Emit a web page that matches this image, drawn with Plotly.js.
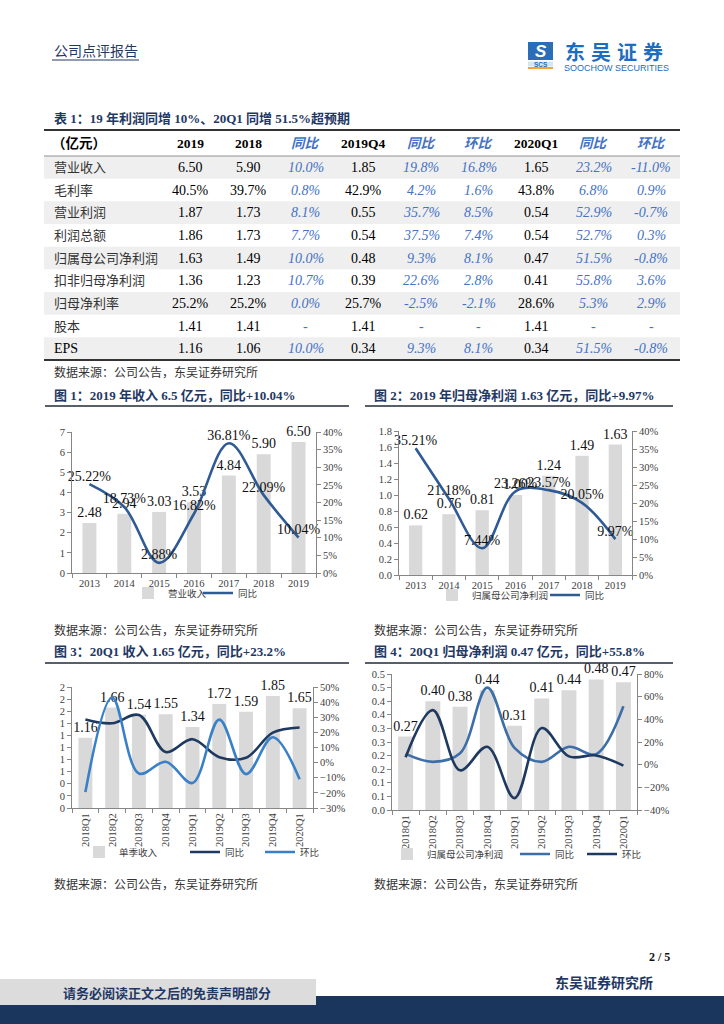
<!DOCTYPE html>
<html><head><meta charset="utf-8">
<script src="https://cdn.plot.ly/plotly-3.0.1.min.js"></script>
<style>html,body{margin:0;padding:0;background:#fff}#g{width:724px;height:1024px}</style>
</head><body><div id="g"></div>
<script>
// ---------- table data ----------
const tableHeader = ['（亿元）','2019','2018','同比','2019Q4','同比','环比','2020Q1','同比','环比'];
const rowLabels = ['营业收入','毛利率','营业利润','利润总额','归属母公司净利润','扣非归母净利润','归母净利率','股本','EPS'];
const val2019 = ['6.50','40.5%','1.87','1.86','1.63','1.36','25.2%','1.41','1.16'];
const val2018 = ['5.90','39.7%','1.73','1.73','1.49','1.23','25.2%','1.41','1.06'];
const yoyYear = ['10.0%','0.8%','8.1%','7.7%','10.0%','10.7%','0.0%','-','10.0%'];
const val2019Q4 = ['1.85','42.9%','0.55','0.54','0.48','0.39','25.7%','1.41','0.34'];
const yoy2019Q4 = ['19.8%','4.2%','35.7%','37.5%','9.3%','22.6%','-2.5%','-','9.3%'];
const qoq2019Q4 = ['16.8%','1.6%','8.5%','7.4%','8.1%','2.8%','-2.1%','-','8.1%'];
const val2020Q1 = ['1.65','43.8%','0.54','0.54','0.47','0.41','28.6%','1.41','0.34'];
const yoy2020Q1 = ['23.2%','6.8%','52.9%','52.7%','51.5%','55.8%','5.3%','-','51.5%'];
const qoq2020Q1 = ['-11.0%','0.9%','-0.7%','0.3%','-0.8%','3.6%','2.9%','-','-0.8%'];

// ---------- chart 1 & 2 ----------
const years = ['2013','2014','2015','2016','2017','2018','2019'];
const revenue = [2.48,2.94,3.03,3.53,4.84,5.90,6.50];
const revenueYoy = [25.22,18.73,2.88,16.82,36.81,22.09,10.04];
const netProfit = [0.62,0.76,0.81,1.00,1.24,1.49,1.63];
const netProfitYoy = [35.21,21.18,7.44,23.26,23.57,20.05,9.97];

// ---------- chart 3 & 4 ----------
const quarters = ['2018Q1','2018Q2','2018Q3','2018Q4','2019Q1','2019Q2','2019Q3','2019Q4','2020Q1'];
const qRevenue = [1.16,1.66,1.54,1.55,1.34,1.72,1.59,1.85,1.65];
const qRevenueYoy = [28.5,26.0,31.5,7.0,15.5,3.6,3.2,19.8,23.2];
const qRevenueQoq = [-19.5,43.1,-7.2,0.6,-13.5,28.4,-7.6,16.8,-11.0];
const qNetProfit = [0.27,0.40,0.38,0.44,0.31,0.41,0.44,0.48,0.47];
const qNetProfitYoy = [9.5,2.5,10.0,68.0,14.8,2.5,15.8,9.3,51.5];
const qNetProfitQoq = [6.5,48.1,-5.0,15.8,-29.5,32.3,7.3,8.1,-0.8];

const c3TickVals = [0,0.2,0.4,0.6,0.8,1.0,1.2,1.4,1.6,1.8,2.0];
const c3TickText = ['0','0','0','1','1','1','1','1','2','2','2'];
const c4TickVals = [0,0.05,0.1,0.15,0.2,0.25,0.3,0.35,0.4,0.45,0.5];
const c4TickText = ['0.0','0.1','0.1','0.2','0.2','0.3','0.3','0.4','0.4','0.5','0.5'];

// ---------- helpers ----------
const W = 724, H = 1024;
const px = x => x / W, py = y => 1 - y / H;
const SERIF = 'Liberation Serif, Noto Sans CJK SC, serif';
const NAVY = '#1F3864';
const BAR = '#D9D9D9';
const AX = '#868686';
const BLUE_TXT = '#4472C4';

const tickFont = {family: SERIF, size: 10.5, color: '#404040'};
const labelFont = {family: SERIF, size: 14, color: '#111'};

function barTrace(x, y, name, xa, ya, leg, width) {
  return {type:'bar', x, y, name, xaxis:xa, yaxis:ya, legend:leg, width,
    marker:{color:BAR}, text:y.map(v=>v.toFixed(2)), textposition:'outside',
    constraintext:'none', cliponaxis:false, textfont:labelFont, hoverinfo:'skip'};
}
function lineTrace(x, y, name, xa, ya, leg, color, withText) {
  const t = {type:'scatter', mode: withText ? 'lines+text' : 'lines', x, y, name,
    xaxis:xa, yaxis:ya, legend:leg, line:{shape:'spline', smoothing:1, color, width:2.6},
    cliponaxis:false, hoverinfo:'skip'};
  if (withText) { t.text = y.map(v=>v.toFixed(2)+'%'); t.textposition='top center'; t.textfont=labelFont; }
  return t;
}

const data = [
  barTrace(years, revenue, '营业收入', 'x', 'y', 'legend', 0.4),
  lineTrace(years, revenueYoy, '同比', 'x', 'y2', 'legend2', '#2F5A94', true),
  barTrace(years, netProfit, '归属母公司净利润', 'x2', 'y3', 'legend3', 0.4),
  lineTrace(years, netProfitYoy, '同比', 'x2', 'y4', 'legend4', '#2F5A94', true),
  barTrace(quarters, qRevenue, '单季收入', 'x3', 'y5', 'legend5', 0.52),
  lineTrace(quarters, qRevenueYoy, '同比', 'x3', 'y6', 'legend6', '#1F3A60', false),
  lineTrace(quarters, qRevenueQoq, '环比', 'x3', 'y6', 'legend7', '#3A80C6', false),
  barTrace(quarters, qNetProfit, '归属母公司净利润', 'x4', 'y7', 'legend8', 0.55),
  lineTrace(quarters, qNetProfitYoy, '同比', 'x4', 'y8', 'legend9', '#3D6EA8', false),
  lineTrace(quarters, qNetProfitQoq, '环比', 'x4', 'y8', 'legend10', '#1F3A60', false)
];

const xBase = {type:'category', showline:true, linecolor:AX, linewidth:1, ticks:'outside', tickson:'boundaries',
  ticklen:4, tickcolor:AX, tickfont:tickFont, showgrid:false, zeroline:false, fixedrange:true};
const yBase = {showline:true, linecolor:AX, linewidth:1, ticks:'outside', ticklen:4, tickcolor:AX,
  tickfont:tickFont, showgrid:false, zeroline:false, fixedrange:true};
const legBase = {orientation:'h', xanchor:'left', yanchor:'middle', bgcolor:'rgba(0,0,0,0)',
  font:{family:SERIF, size:9.5, color:'#404040'}, itemwidth:30, borderwidth:0};
const leg = (x, y) => Object.assign({}, legBase, {x:px(x), y:py(y)});

function ann(text, x, y, opt) {
  return Object.assign({text, x:px(x), y:py(y), xref:'paper', yref:'paper', showarrow:false,
    xanchor:'left', yanchor:'middle', font:{family:SERIF, size:12, color:'#333'}}, opt||{});
}
const titleFont = {family:SERIF, size:13, color:NAVY};
const srcText = '数据来源：公司公告，东吴证券研究所';

// ---------- table (drawn from the arrays) ----------
const tableCols = [val2019, val2018, yoyYear, val2019Q4, yoy2019Q4, qoq2019Q4, val2020Q1, yoy2020Q1, qoq2020Q1];
const isRatio = [false,false,true,false,true,true,false,true,true];
const T_LEFT = 44, T_RIGHT = 680, T_TOP = 130, HEAD_H = 26, ROW_H = 22.67, LABEL_W = 118;
const colW = (T_RIGHT - T_LEFT - LABEL_W) / tableCols.length;
const colX = i => T_LEFT + LABEL_W + colW * (i + 0.5);
const rowY = r => T_TOP + HEAD_H + ROW_H * (r + 0.5);

const annotations = [];
const shapes = [];
// header
annotations.push(ann('<b>' + tableHeader[0] + '</b>', 50, T_TOP + HEAD_H/2, {font:{family:SERIF, size:13.5, color:'#000'}}));
tableHeader.slice(1).forEach((h, i) => {
  annotations.push(ann(isRatio[i] ? '<b><i>'+h+'</i></b>' : '<b>'+h+'</b>', colX(i), T_TOP + HEAD_H/2,
    {xanchor:'center', font:{family:SERIF, size:13.5, color: isRatio[i] ? BLUE_TXT : '#000'}}));
});
// body
rowLabels.forEach((lab, r) => {
  if (r % 2 === 0) shapes.push({type:'rect', xref:'paper', yref:'paper', x0:px(T_LEFT), x1:px(T_RIGHT),
    y0:py(T_TOP + HEAD_H + ROW_H*(r+1)), y1:py(T_TOP + HEAD_H + ROW_H*r), fillcolor:'#EFEFEF', line:{width:0}, layer:'below'});
  annotations.push(ann(lab, 52, rowY(r), {font:{family:SERIF, size: lab === 'EPS' ? 14 : 13, color: lab === 'EPS' ? '#000' : '#333'}}));
  tableCols.forEach((col, i) => {
    annotations.push(ann(isRatio[i] ? '<i>'+col[r]+'</i>' : col[r], colX(i), rowY(r),
      {xanchor:'center', font:{family:SERIF, size:14, color: isRatio[i] ? BLUE_TXT : '#000'}}));
  });
});

annotations.push(
  ann('公司点评报告', 52, 51, {font:{family:SERIF, size:14, color:NAVY}}),
  ann('SOOCHOW SECURITIES', 562, 67.5, {font:{family:'Liberation Sans, Arial, sans-serif', size:9, color:'#1C6CBF'}}),
  ann('<b><i>S</i></b>', 540.5, 51, {xanchor:'center', font:{family:'Liberation Sans, sans-serif', size:17, color:'#FFFFFF'}}),
  ann('<b>SCS</b>', 540.5, 64, {xanchor:'center', font:{family:'Liberation Sans, sans-serif', size:6.5, color:'#1C6CBF'}}),
  ann('<b>表 1：19 年利润同增 10%、20Q1 同增 51.5%超预期</b>', 52, 118, {font:titleFont}),
  ann(srcText, 52, 372),
  ann('<b>图 1：2019 年收入 6.5 亿元，同比+10.04%</b>', 52, 395, {font:titleFont}),
  ann('<b>图 2：2019 年归母净利润 1.63 亿元，同比+9.97%</b>', 372, 395, {font:titleFont}),
  ann(srcText, 52, 630),
  ann(srcText, 372, 630),
  ann('<b>图 3：20Q1 收入 1.65 亿元，同比+23.2%</b>', 52, 651.5, {font:titleFont}),
  ann('<b>图 4：20Q1 归母净利润 0.47 亿元，同比+55.8%</b>', 372, 651.5, {font:titleFont}),
  ann(srcText, 52, 884),
  ann(srcText, 372, 884),
  ann('<b>2 / 5</b>', 672, 957, {xanchor:'right', font:{family:SERIF, size:12, color:'#111'}}),
  ann('<b>东吴证券研究所</b>', 604, 983, {xanchor:'center', font:{family:SERIF, size:14, color:NAVY}}),
  ann('<b>请务必阅读正文之后的免责声明部分</b>', 167, 993, {xanchor:'center', font:{family:SERIF, size:13, color:NAVY}})
);
// logo characters, spread wide like the brand lettering
['东','吴','证','券'].forEach((ch, i) => annotations.push(
  ann('<b>'+ch+'</b>', 575 + i*26, 51.5, {xanchor:'center', font:{family:'Noto Sans CJK SC, sans-serif', size:20, color:'#1C6CBF'}})));

function hline(x0, x1, y, color, w) {
  return {type:'line', xref:'paper', yref:'paper', x0:px(x0), x1:px(x1), y0:py(y), y1:py(y), line:{color, width:w}};
}
function rect(x0, x1, y0, y1, color) {
  return {type:'rect', xref:'paper', yref:'paper', x0:px(x0), x1:px(x1), y0:py(y1), y1:py(y0), fillcolor:color, line:{width:0}, layer:'below'};
}
shapes.push(
  hline(52, 139, 60, NAVY, 1),
  rect(528, 553, 42, 60, '#2B6DB8'),
  rect(528, 553, 61.5, 66.5, '#D6E4F3'),
  hline(528, 553, 68, '#F2A33A', 2),
  hline(T_LEFT, T_RIGHT, T_TOP, '#333', 2),
  hline(T_LEFT, T_RIGHT, T_TOP + HEAD_H, '#777', 0.8),
  hline(T_LEFT, T_RIGHT, T_TOP + HEAD_H + ROW_H*rowLabels.length, '#333', 2),
  hline(45, 349, 406, '#1F2A3A', 1.6),
  hline(365, 673, 406, '#1F2A3A', 1.6),
  hline(45, 349, 663, '#1F2A3A', 1.6),
  hline(365, 673, 663, '#1F2A3A', 1.6),
  rect(0, 724, 996, 1024, '#1B365D'),
  Object.assign(rect(0, 316, 979, 1005, '#DCDCDC'), {layer:'above'})
);

const layout = {
  width:W, height:H, margin:{l:0,r:0,t:0,b:0}, paper_bgcolor:'#FFFFFF', plot_bgcolor:'rgba(0,0,0,0)',
  showlegend:true,
  xaxis: Object.assign({}, xBase, {domain:[px(72), px(316)], anchor:'y'}),
  yaxis: Object.assign({}, yBase, {domain:[py(573), py(432)], anchor:'x', range:[0,7], dtick:1}),
  yaxis2: Object.assign({}, yBase, {overlaying:'y', side:'right', anchor:'x', range:[0,40], dtick:5, ticksuffix:'%'}),
  xaxis2: Object.assign({}, xBase, {domain:[px(399), px(632)], anchor:'y3'}),
  yaxis3: Object.assign({}, yBase, {domain:[py(575), py(431)], anchor:'x2', range:[0,1.8], dtick:0.2, tickformat:'.1f'}),
  yaxis4: Object.assign({}, yBase, {overlaying:'y3', side:'right', anchor:'x2', range:[0,40], dtick:5, ticksuffix:'%'}),
  xaxis3: Object.assign({}, xBase, {domain:[px(72), px(313)], anchor:'y5', tickangle:-90}),
  yaxis5: Object.assign({}, yBase, {domain:[py(808), py(687)], anchor:'x3', range:[0,2], tickvals:c3TickVals, ticktext:c3TickText}),
  yaxis6: Object.assign({}, yBase, {overlaying:'y5', side:'right', anchor:'x3', range:[-30,50], dtick:10, ticksuffix:'%'}),
  xaxis4: Object.assign({}, xBase, {domain:[px(392), px(637)], anchor:'y7', tickangle:-90}),
  yaxis7: Object.assign({}, yBase, {domain:[py(810), py(674)], anchor:'x4', range:[0,0.5], tickvals:c4TickVals, ticktext:c4TickText}),
  yaxis8: Object.assign({}, yBase, {overlaying:'y7', side:'right', anchor:'x4', range:[-40,80], dtick:20, ticksuffix:'%'}),
  legend: leg(128, 593), legend2: leg(198, 593),
  legend3: leg(432, 595), legend4: leg(545, 595),
  legend5: leg(79, 852), legend6: leg(185, 852), legend7: leg(260, 852),
  legend8: leg(387, 854), legend9: leg(515, 854), legend10: leg(582, 854),
  annotations, shapes
};

Plotly.newPlot('g', data, layout, {displayModeBar:false, staticPlot:true});
</script></body></html>
